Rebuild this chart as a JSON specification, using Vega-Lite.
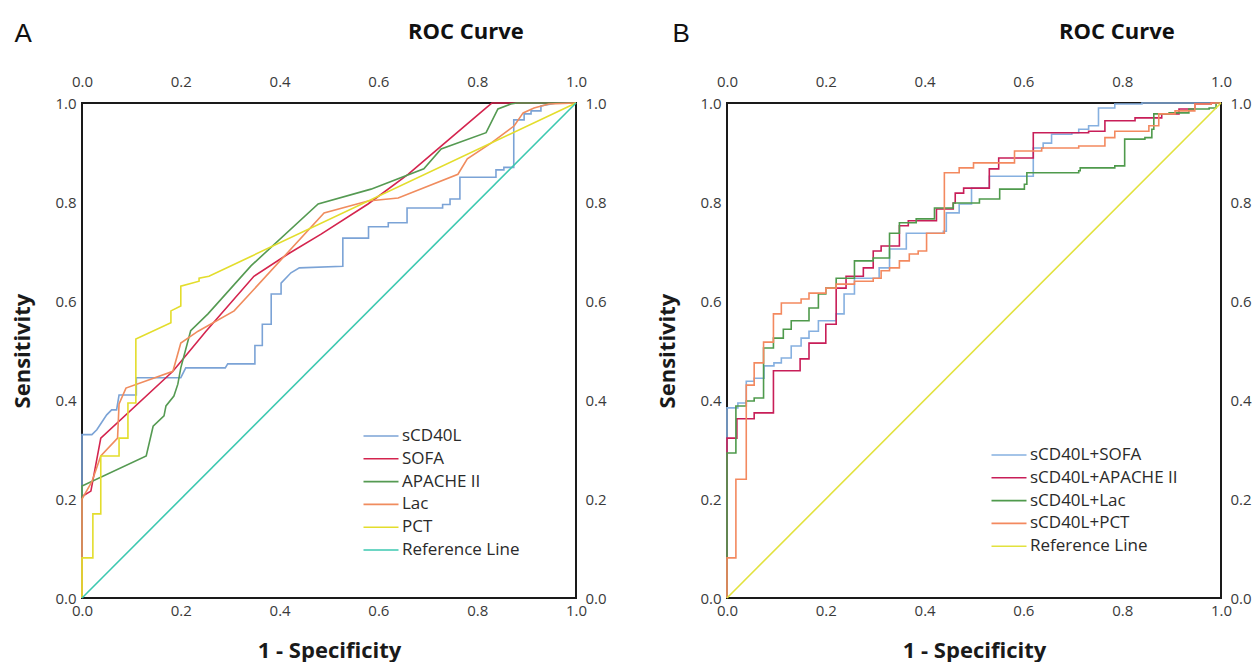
{
  "$schema": "https://vega.github.io/schema/vega-lite/v6.json",
  "background": "white",
  "padding": {"left": 10, "top": 20, "right": 0, "bottom": 0},
  "spacing": 47,
  "resolve": {"scale": {"color": "independent"}, "legend": {"color": "independent"}},
  "config": {
    "view": {"stroke": "#1a1a1a", "strokeWidth": 2},
    "font": "Open Sans",
    "axis": {"domain": false, "ticks": false, "grid": false, "labelFont": "Open Sans", "labelFontSize": 15, "labelColor": "#3a3a3a", "labelFlush": false, "labelOverlap": false, "titleFont": "Open Sans", "titleFontSize": 22, "titleFontWeight": "bold", "titleColor": "#1a1a1a"},
    "legend": {"labelFont": "Open Sans", "labelFontSize": 17, "labelColor": "#2a2a2a", "padding": 0, "rowPadding": 4.8, "symbolType": "M-2.5,0H2.5", "symbolSize": 196, "symbolStrokeWidth": 1.6, "labelOffset": 12.5, "title": null}
  },
  "datasets": {
    "a": [
      {"s":"sCD40L","x":0,"y":0},{"s":"sCD40L","x":0,"y":0.33},{"s":"sCD40L","x":0.02,"y":0.33},{"s":"sCD40L","x":0.03,"y":0.34},{"s":"sCD40L","x":0.04,"y":0.355},{"s":"sCD40L","x":0.05,"y":0.37},{"s":"sCD40L","x":0.06,"y":0.38},{"s":"sCD40L","x":0.07,"y":0.38},{"s":"sCD40L","x":0.075,"y":0.41},{"s":"sCD40L","x":0.11,"y":0.41},{"s":"sCD40L","x":0.11,"y":0.445},{"s":"sCD40L","x":0.2,"y":0.445},{"s":"sCD40L","x":0.21,"y":0.465},{"s":"sCD40L","x":0.29,"y":0.465},{"s":"sCD40L","x":0.295,"y":0.473},{"s":"sCD40L","x":0.35,"y":0.473},{"s":"sCD40L","x":0.35,"y":0.51},{"s":"sCD40L","x":0.365,"y":0.51},{"s":"sCD40L","x":0.365,"y":0.553},{"s":"sCD40L","x":0.383,"y":0.553},{"s":"sCD40L","x":0.383,"y":0.614},{"s":"sCD40L","x":0.403,"y":0.614},{"s":"sCD40L","x":0.403,"y":0.636},{"s":"sCD40L","x":0.423,"y":0.657},{"s":"sCD40L","x":0.44,"y":0.667},{"s":"sCD40L","x":0.528,"y":0.67},{"s":"sCD40L","x":0.528,"y":0.727},{"s":"sCD40L","x":0.58,"y":0.727},{"s":"sCD40L","x":0.58,"y":0.75},{"s":"sCD40L","x":0.62,"y":0.75},{"s":"sCD40L","x":0.62,"y":0.758},{"s":"sCD40L","x":0.658,"y":0.758},{"s":"sCD40L","x":0.658,"y":0.788},{"s":"sCD40L","x":0.73,"y":0.788},{"s":"sCD40L","x":0.73,"y":0.795},{"s":"sCD40L","x":0.745,"y":0.795},{"s":"sCD40L","x":0.745,"y":0.806},{"s":"sCD40L","x":0.765,"y":0.806},{"s":"sCD40L","x":0.765,"y":0.85},{"s":"sCD40L","x":0.838,"y":0.85},{"s":"sCD40L","x":0.838,"y":0.865},{"s":"sCD40L","x":0.854,"y":0.865},{"s":"sCD40L","x":0.854,"y":0.87},{"s":"sCD40L","x":0.874,"y":0.87},{"s":"sCD40L","x":0.874,"y":0.966},{"s":"sCD40L","x":0.895,"y":0.966},{"s":"sCD40L","x":0.895,"y":0.978},{"s":"sCD40L","x":0.909,"y":0.978},{"s":"sCD40L","x":0.909,"y":0.984},{"s":"sCD40L","x":0.929,"y":0.984},{"s":"sCD40L","x":0.929,"y":0.994},{"s":"sCD40L","x":0.96,"y":1},{"s":"sCD40L","x":1,"y":1},
      {"s":"SOFA","x":0,"y":0},{"s":"SOFA","x":0,"y":0.205},{"s":"SOFA","x":0.018,"y":0.216},{"s":"SOFA","x":0.038,"y":0.323},{"s":"SOFA","x":0.184,"y":0.458},{"s":"SOFA","x":0.251,"y":0.539},{"s":"SOFA","x":0.348,"y":0.65},{"s":"SOFA","x":0.417,"y":0.695},{"s":"SOFA","x":0.484,"y":0.735},{"s":"SOFA","x":0.579,"y":0.796},{"s":"SOFA","x":0.66,"y":0.856},{"s":"SOFA","x":0.727,"y":0.913},{"s":"SOFA","x":0.818,"y":0.99},{"s":"SOFA","x":0.83,"y":1},{"s":"SOFA","x":1,"y":1},
      {"s":"APACHE II","x":0,"y":0},{"s":"APACHE II","x":0,"y":0.226},{"s":"APACHE II","x":0.13,"y":0.287},{"s":"APACHE II","x":0.144,"y":0.347},{"s":"APACHE II","x":0.166,"y":0.368},{"s":"APACHE II","x":0.17,"y":0.388},{"s":"APACHE II","x":0.186,"y":0.408},{"s":"APACHE II","x":0.194,"y":0.432},{"s":"APACHE II","x":0.2,"y":0.465},{"s":"APACHE II","x":0.22,"y":0.54},{"s":"APACHE II","x":0.255,"y":0.574},{"s":"APACHE II","x":0.342,"y":0.671},{"s":"APACHE II","x":0.478,"y":0.796},{"s":"APACHE II","x":0.585,"y":0.826},{"s":"APACHE II","x":0.692,"y":0.867},{"s":"APACHE II","x":0.727,"y":0.907},{"s":"APACHE II","x":0.818,"y":0.94},{"s":"APACHE II","x":0.842,"y":0.988},{"s":"APACHE II","x":0.868,"y":0.998},{"s":"APACHE II","x":0.88,"y":1},{"s":"APACHE II","x":1,"y":1},
      {"s":"Lac","x":0,"y":0},{"s":"Lac","x":0,"y":0.2},{"s":"Lac","x":0.02,"y":0.235},{"s":"Lac","x":0.038,"y":0.287},{"s":"Lac","x":0.072,"y":0.323},{"s":"Lac","x":0.075,"y":0.392},{"s":"Lac","x":0.089,"y":0.424},{"s":"Lac","x":0.184,"y":0.458},{"s":"Lac","x":0.2,"y":0.515},{"s":"Lac","x":0.235,"y":0.539},{"s":"Lac","x":0.308,"y":0.58},{"s":"Lac","x":0.49,"y":0.778},{"s":"Lac","x":0.579,"y":0.802},{"s":"Lac","x":0.64,"y":0.808},{"s":"Lac","x":0.761,"y":0.856},{"s":"Lac","x":0.78,"y":0.887},{"s":"Lac","x":0.828,"y":0.919},{"s":"Lac","x":0.875,"y":0.954},{"s":"Lac","x":0.893,"y":0.98},{"s":"Lac","x":0.915,"y":0.99},{"s":"Lac","x":0.945,"y":0.998},{"s":"Lac","x":1,"y":1},
      {"s":"PCT","x":0,"y":0},{"s":"PCT","x":0,"y":0.081},{"s":"PCT","x":0.022,"y":0.081},{"s":"PCT","x":0.022,"y":0.17},{"s":"PCT","x":0.038,"y":0.17},{"s":"PCT","x":0.038,"y":0.287},{"s":"PCT","x":0.075,"y":0.287},{"s":"PCT","x":0.075,"y":0.323},{"s":"PCT","x":0.093,"y":0.323},{"s":"PCT","x":0.093,"y":0.394},{"s":"PCT","x":0.109,"y":0.394},{"s":"PCT","x":0.109,"y":0.523},{"s":"PCT","x":0.18,"y":0.556},{"s":"PCT","x":0.18,"y":0.58},{"s":"PCT","x":0.2,"y":0.59},{"s":"PCT","x":0.2,"y":0.63},{"s":"PCT","x":0.237,"y":0.64},{"s":"PCT","x":0.237,"y":0.646},{"s":"PCT","x":0.257,"y":0.65},{"s":"PCT","x":1,"y":1},
      {"s":"Reference Line","x":0,"y":0},{"s":"Reference Line","x":1,"y":1}
    ],
    "b": [
      {"s":"sCD40L+SOFA","x":0,"y":0},{"s":"sCD40L+SOFA","x":0,"y":0.384},{"s":"sCD40L+SOFA","x":0.022,"y":0.394},{"s":"sCD40L+SOFA","x":0.039,"y":0.438},{"s":"sCD40L+SOFA","x":0.055,"y":0.444},{"s":"sCD40L+SOFA","x":0.075,"y":0.469},{"s":"sCD40L+SOFA","x":0.095,"y":0.475},{"s":"sCD40L+SOFA","x":0.11,"y":0.485},{"s":"sCD40L+SOFA","x":0.13,"y":0.509},{"s":"sCD40L+SOFA","x":0.15,"y":0.525},{"s":"sCD40L+SOFA","x":0.166,"y":0.539},{"s":"sCD40L+SOFA","x":0.185,"y":0.56},{"s":"sCD40L+SOFA","x":0.221,"y":0.574},{"s":"sCD40L+SOFA","x":0.237,"y":0.614},{"s":"sCD40L+SOFA","x":0.258,"y":0.646},{"s":"sCD40L+SOFA","x":0.308,"y":0.667},{"s":"sCD40L+SOFA","x":0.329,"y":0.705},{"s":"sCD40L+SOFA","x":0.363,"y":0.737},{"s":"sCD40L+SOFA","x":0.438,"y":0.741},{"s":"sCD40L+SOFA","x":0.444,"y":0.778},{"s":"sCD40L+SOFA","x":0.47,"y":0.796},{"s":"sCD40L+SOFA","x":0.495,"y":0.828},{"s":"sCD40L+SOFA","x":0.531,"y":0.852},{"s":"sCD40L+SOFA","x":0.62,"y":0.909},{"s":"sCD40L+SOFA","x":0.64,"y":0.919},{"s":"sCD40L+SOFA","x":0.657,"y":0.937},{"s":"sCD40L+SOFA","x":0.698,"y":0.94},{"s":"sCD40L+SOFA","x":0.712,"y":0.947},{"s":"sCD40L+SOFA","x":0.732,"y":0.954},{"s":"sCD40L+SOFA","x":0.752,"y":0.99},{"s":"sCD40L+SOFA","x":0.785,"y":0.998},{"s":"sCD40L+SOFA","x":0.84,"y":1},{"s":"sCD40L+SOFA","x":1,"y":1},
      {"s":"sCD40L+APACHE II","x":0,"y":0},{"s":"sCD40L+APACHE II","x":0,"y":0.323},{"s":"sCD40L+APACHE II","x":0.02,"y":0.362},{"s":"sCD40L+APACHE II","x":0.055,"y":0.374},{"s":"sCD40L+APACHE II","x":0.094,"y":0.459},{"s":"sCD40L+APACHE II","x":0.148,"y":0.483},{"s":"sCD40L+APACHE II","x":0.166,"y":0.515},{"s":"sCD40L+APACHE II","x":0.2,"y":0.553},{"s":"sCD40L+APACHE II","x":0.221,"y":0.626},{"s":"sCD40L+APACHE II","x":0.241,"y":0.65},{"s":"sCD40L+APACHE II","x":0.276,"y":0.667},{"s":"sCD40L+APACHE II","x":0.296,"y":0.701},{"s":"sCD40L+APACHE II","x":0.312,"y":0.711},{"s":"sCD40L+APACHE II","x":0.349,"y":0.752},{"s":"sCD40L+APACHE II","x":0.367,"y":0.762},{"s":"sCD40L+APACHE II","x":0.424,"y":0.786},{"s":"sCD40L+APACHE II","x":0.458,"y":0.798},{"s":"sCD40L+APACHE II","x":0.462,"y":0.818},{"s":"sCD40L+APACHE II","x":0.479,"y":0.828},{"s":"sCD40L+APACHE II","x":0.531,"y":0.867},{"s":"sCD40L+APACHE II","x":0.55,"y":0.889},{"s":"sCD40L+APACHE II","x":0.62,"y":0.94},{"s":"sCD40L+APACHE II","x":0.732,"y":0.943},{"s":"sCD40L+APACHE II","x":0.765,"y":0.964},{"s":"sCD40L+APACHE II","x":0.826,"y":0.97},{"s":"sCD40L+APACHE II","x":0.88,"y":0.978},{"s":"sCD40L+APACHE II","x":0.915,"y":0.988},{"s":"sCD40L+APACHE II","x":0.947,"y":0.998},{"s":"sCD40L+APACHE II","x":0.98,"y":1},{"s":"sCD40L+APACHE II","x":1,"y":1},
      {"s":"sCD40L+Lac","x":0,"y":0},{"s":"sCD40L+Lac","x":0,"y":0.293},{"s":"sCD40L+Lac","x":0.018,"y":0.388},{"s":"sCD40L+Lac","x":0.039,"y":0.398},{"s":"sCD40L+Lac","x":0.055,"y":0.404},{"s":"sCD40L+Lac","x":0.074,"y":0.505},{"s":"sCD40L+Lac","x":0.094,"y":0.525},{"s":"sCD40L+Lac","x":0.114,"y":0.543},{"s":"sCD40L+Lac","x":0.13,"y":0.56},{"s":"sCD40L+Lac","x":0.166,"y":0.586},{"s":"sCD40L+Lac","x":0.185,"y":0.614},{"s":"sCD40L+Lac","x":0.2,"y":0.626},{"s":"sCD40L+Lac","x":0.221,"y":0.646},{"s":"sCD40L+Lac","x":0.258,"y":0.681},{"s":"sCD40L+Lac","x":0.296,"y":0.687},{"s":"sCD40L+Lac","x":0.329,"y":0.737},{"s":"sCD40L+Lac","x":0.349,"y":0.758},{"s":"sCD40L+Lac","x":0.383,"y":0.766},{"s":"sCD40L+Lac","x":0.42,"y":0.788},{"s":"sCD40L+Lac","x":0.458,"y":0.798},{"s":"sCD40L+Lac","x":0.511,"y":0.806},{"s":"sCD40L+Lac","x":0.552,"y":0.826},{"s":"sCD40L+Lac","x":0.602,"y":0.836},{"s":"sCD40L+Lac","x":0.607,"y":0.859},{"s":"sCD40L+Lac","x":0.712,"y":0.863},{"s":"sCD40L+Lac","x":0.715,"y":0.869},{"s":"sCD40L+Lac","x":0.785,"y":0.873},{"s":"sCD40L+Lac","x":0.805,"y":0.927},{"s":"sCD40L+Lac","x":0.846,"y":0.93},{"s":"sCD40L+Lac","x":0.86,"y":0.947},{"s":"sCD40L+Lac","x":0.864,"y":0.978},{"s":"sCD40L+Lac","x":0.895,"y":0.98},{"s":"sCD40L+Lac","x":0.935,"y":0.988},{"s":"sCD40L+Lac","x":0.976,"y":0.99},{"s":"sCD40L+Lac","x":0.99,"y":1},{"s":"sCD40L+Lac","x":1,"y":1},
      {"s":"sCD40L+PCT","x":0,"y":0},{"s":"sCD40L+PCT","x":0,"y":0.081},{"s":"sCD40L+PCT","x":0.018,"y":0.24},{"s":"sCD40L+PCT","x":0.039,"y":0.43},{"s":"sCD40L+PCT","x":0.055,"y":0.475},{"s":"sCD40L+PCT","x":0.074,"y":0.517},{"s":"sCD40L+PCT","x":0.094,"y":0.574},{"s":"sCD40L+PCT","x":0.11,"y":0.596},{"s":"sCD40L+PCT","x":0.15,"y":0.604},{"s":"sCD40L+PCT","x":0.166,"y":0.616},{"s":"sCD40L+PCT","x":0.2,"y":0.626},{"s":"sCD40L+PCT","x":0.221,"y":0.634},{"s":"sCD40L+PCT","x":0.258,"y":0.64},{"s":"sCD40L+PCT","x":0.296,"y":0.646},{"s":"sCD40L+PCT","x":0.312,"y":0.661},{"s":"sCD40L+PCT","x":0.329,"y":0.667},{"s":"sCD40L+PCT","x":0.349,"y":0.681},{"s":"sCD40L+PCT","x":0.369,"y":0.695},{"s":"sCD40L+PCT","x":0.387,"y":0.701},{"s":"sCD40L+PCT","x":0.404,"y":0.737},{"s":"sCD40L+PCT","x":0.44,"y":0.859},{"s":"sCD40L+PCT","x":0.47,"y":0.869},{"s":"sCD40L+PCT","x":0.499,"y":0.879},{"s":"sCD40L+PCT","x":0.582,"y":0.903},{"s":"sCD40L+PCT","x":0.637,"y":0.909},{"s":"sCD40L+PCT","x":0.712,"y":0.913},{"s":"sCD40L+PCT","x":0.765,"y":0.93},{"s":"sCD40L+PCT","x":0.785,"y":0.943},{"s":"sCD40L+PCT","x":0.854,"y":0.954},{"s":"sCD40L+PCT","x":0.874,"y":0.978},{"s":"sCD40L+PCT","x":0.907,"y":0.984},{"s":"sCD40L+PCT","x":0.947,"y":0.998},{"s":"sCD40L+PCT","x":0.98,"y":1},{"s":"sCD40L+PCT","x":1,"y":1},
      {"s":"Reference Line","x":0,"y":0},{"s":"Reference Line","x":1,"y":1}
    ]
  },
  "hconcat": [
    {
      "width": 494, "height": 495,
      "data": {"name": "a"},
      "resolve": {"axis": {"x": "independent", "y": "independent"}},
      "layer": [
        {
          "transform": [{"filter": "datum.s !== 'Reference Line'"}],
          "mark": {"type": "line", "strokeWidth": 1.6},
          "encoding": {
            "x": {"field": "x", "type": "quantitative", "scale": {"domain": [0, 1], "nice": false, "zero": false}, "axis": {"orient": "bottom", "values": [0, 0.2, 0.4, 0.6, 0.8, 1], "format": ".1f", "title": "1 - Specificity", "labelPadding": 5, "titlePadding": 22}},
            "y": {"field": "y", "type": "quantitative", "scale": {"domain": [0, 1], "nice": false, "zero": false}, "axis": {"orient": "left", "values": [0, 0.2, 0.4, 0.6, 0.8, 1], "format": ".1f", "title": "Sensitivity", "labelPadding": 6, "titlePadding": 20}},
            "color": {"field": "s", "type": "nominal", "scale": {"domain": ["sCD40L", "SOFA", "APACHE II", "Lac", "PCT", "Reference Line"], "range": ["#7ba3d6", "#d4244e", "#559a52", "#f08c5e", "#e3dd2c", "#3cc8b0"]}, "legend": {"orient": "none", "legendX": 290.5, "legendY": 324.5}},
            "order": {"value": null}
          }
        },
        {
          "transform": [{"filter": "datum.s === 'Reference Line'"}],
          "mark": {"type": "line", "strokeWidth": 1.6},
          "encoding": {
            "x": {"field": "x", "type": "quantitative", "scale": {"domain": [0, 1], "nice": false, "zero": false}, "axis": {"orient": "top", "values": [0, 0.2, 0.4, 0.6, 0.8, 1], "format": ".1f", "title": null, "labelPadding": 13.5}},
            "y": {"field": "y", "type": "quantitative", "scale": {"domain": [0, 1], "nice": false, "zero": false}, "axis": {"orient": "right", "values": [0, 0.2, 0.4, 0.6, 0.8, 1], "format": ".1f", "title": null, "labelPadding": 9}},
            "color": {"field": "s", "type": "nominal", "scale": {"domain": ["sCD40L", "SOFA", "APACHE II", "Lac", "PCT", "Reference Line"], "range": ["#7ba3d6", "#d4244e", "#559a52", "#f08c5e", "#e3dd2c", "#3cc8b0"]}, "legend": {"orient": "none", "legendX": 290.5, "legendY": 324.5}}
          }
        },
        {
          "data": {"values": [{}]},
          "mark": {"type": "text", "font": "Liberation Sans", "fontSize": 26, "align": "center", "baseline": "middle", "color": "#111"},
          "encoding": {
            "x": {"datum": -0.119, "type": "quantitative", "scale": {"domain": [0, 1], "nice": false, "zero": false}, "axis": null},
            "y": {"datum": 1.139, "type": "quantitative", "scale": {"domain": [0, 1], "nice": false, "zero": false}, "axis": null},
            "text": {"value": "A"}
          }
        },
        {
          "data": {"values": [{}]},
          "mark": {"type": "text", "font": "Open Sans", "fontSize": 22, "fontWeight": "bold", "align": "center", "baseline": "middle", "color": "#111"},
          "encoding": {
            "x": {"datum": 0.777, "type": "quantitative", "scale": {"domain": [0, 1], "nice": false, "zero": false}, "axis": null},
            "y": {"datum": 1.143, "type": "quantitative", "scale": {"domain": [0, 1], "nice": false, "zero": false}, "axis": null},
            "text": {"value": "ROC Curve"}
          }
        }
      ]
    },
    {
      "width": 494, "height": 495,
      "data": {"name": "b"},
      "resolve": {"axis": {"x": "independent", "y": "independent"}},
      "layer": [
        {
          "transform": [{"filter": "datum.s !== 'Reference Line'"}],
          "mark": {"type": "line", "strokeWidth": 1.6, "interpolate": "step-after"},
          "encoding": {
            "x": {"field": "x", "type": "quantitative", "scale": {"domain": [0, 1], "nice": false, "zero": false}, "axis": {"orient": "bottom", "values": [0, 0.2, 0.4, 0.6, 0.8, 1], "format": ".1f", "title": "1 - Specificity", "labelPadding": 5, "titlePadding": 22}},
            "y": {"field": "y", "type": "quantitative", "scale": {"domain": [0, 1], "nice": false, "zero": false}, "axis": {"orient": "left", "values": [0, 0.2, 0.4, 0.6, 0.8, 1], "format": ".1f", "title": "Sensitivity", "labelPadding": 6, "titlePadding": 20}},
            "color": {"field": "s", "type": "nominal", "scale": {"domain": ["sCD40L+SOFA", "sCD40L+APACHE II", "sCD40L+Lac", "sCD40L+PCT", "Reference Line"], "range": ["#86b0e0", "#c81e58", "#4f9a4c", "#f3895f", "#e2e23e"]}, "legend": {"orient": "none", "legendX": 273.5, "legendY": 343.5}},
            "order": {"value": null}
          }
        },
        {
          "transform": [{"filter": "datum.s === 'Reference Line'"}],
          "mark": {"type": "line", "strokeWidth": 1.6},
          "encoding": {
            "x": {"field": "x", "type": "quantitative", "scale": {"domain": [0, 1], "nice": false, "zero": false}, "axis": {"orient": "top", "values": [0, 0.2, 0.4, 0.6, 0.8, 1], "format": ".1f", "title": null, "labelPadding": 13.5}},
            "y": {"field": "y", "type": "quantitative", "scale": {"domain": [0, 1], "nice": false, "zero": false}, "axis": {"orient": "right", "values": [0, 0.2, 0.4, 0.6, 0.8, 1], "format": ".1f", "title": null, "labelPadding": 9}},
            "color": {"field": "s", "type": "nominal", "scale": {"domain": ["sCD40L+SOFA", "sCD40L+APACHE II", "sCD40L+Lac", "sCD40L+PCT", "Reference Line"], "range": ["#86b0e0", "#c81e58", "#4f9a4c", "#f3895f", "#e2e23e"]}, "legend": {"orient": "none", "legendX": 273.5, "legendY": 343.5}}
          }
        },
        {
          "data": {"values": [{}]},
          "mark": {"type": "text", "font": "Liberation Sans", "fontSize": 26, "align": "center", "baseline": "middle", "color": "#111"},
          "encoding": {
            "x": {"datum": -0.093, "type": "quantitative", "scale": {"domain": [0, 1], "nice": false, "zero": false}, "axis": null},
            "y": {"datum": 1.139, "type": "quantitative", "scale": {"domain": [0, 1], "nice": false, "zero": false}, "axis": null},
            "text": {"value": "B"}
          }
        },
        {
          "data": {"values": [{}]},
          "mark": {"type": "text", "font": "Open Sans", "fontSize": 22, "fontWeight": "bold", "align": "center", "baseline": "middle", "color": "#111"},
          "encoding": {
            "x": {"datum": 0.789, "type": "quantitative", "scale": {"domain": [0, 1], "nice": false, "zero": false}, "axis": null},
            "y": {"datum": 1.143, "type": "quantitative", "scale": {"domain": [0, 1], "nice": false, "zero": false}, "axis": null},
            "text": {"value": "ROC Curve"}
          }
        }
      ]
    }
  ]
}
